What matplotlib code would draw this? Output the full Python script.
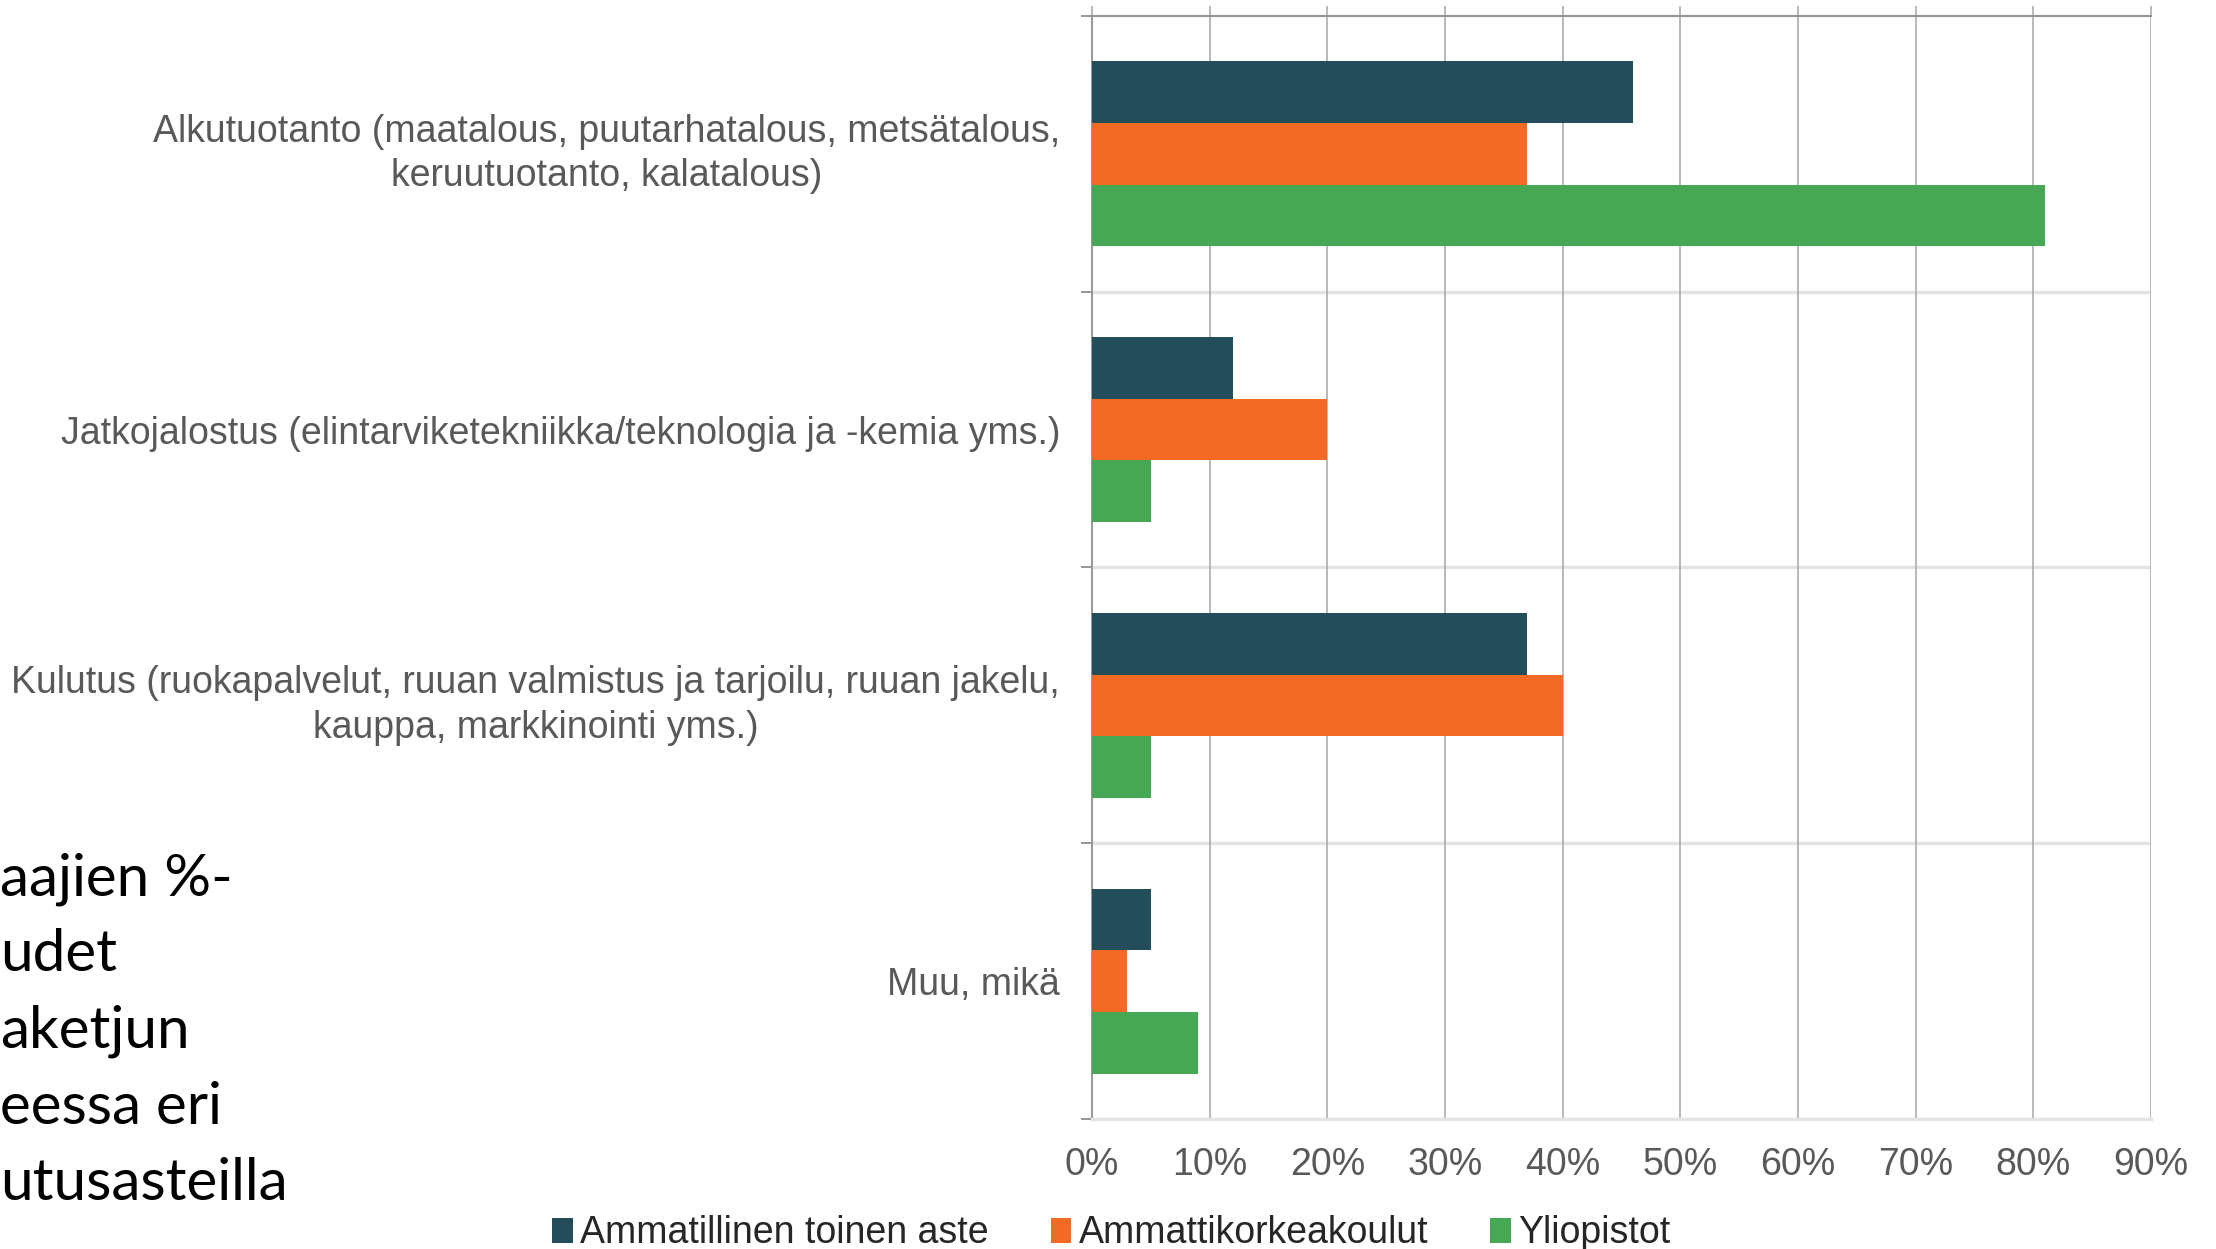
import matplotlib
matplotlib.use("Agg")
import matplotlib.pyplot as plt
from matplotlib.patches import Patch
from matplotlib.ticker import FuncFormatter, FixedLocator
import numpy as np

categories = [
    "Alkutuotanto (maatalous, puutarhatalous, metsätalous,\nkeruutuotanto, kalatalous)",
    "Jatkojalostus (elintarviketekniikka/teknologia ja -kemia yms.)",
    "Kulutus (ruokapalvelut, ruuan valmistus ja tarjoilu, ruuan jakelu,\nkauppa, markkinointi yms.)",
    "Muu, mikä",
]
series_names = ["Ammatillinen toinen aste", "Ammattikorkeakoulut", "Yliopistot"]
ammatillinen = [46, 12, 37, 5]
amk = [37, 20, 40, 3]
yliopistot = [81, 5, 5, 9]
x_ticks = [0, 10, 20, 30, 40, 50, 60, 70, 80, 90]
side_title_lines = ["aajien %-", "udet", "aketjun", "eessa eri", "utusasteilla"]

colors = ["#234D5B", "#F26A23", "#46A855"]
text_gray = "#595959"
grid_gray = "#A6A6A6"
sep_gray = "#E3E3E3"

plt.rcParams["font.family"] = ["Liberation Sans", "DejaVu Sans"]

fig = plt.figure(figsize=(22.16, 12.49), dpi=100)
ax = fig.add_axes([0.4928, 0.1041, 0.9707 - 0.4928, 0.9872 - 0.1041])

y = np.arange(len(categories))
h = 0.2237
for i, (vals, col, name) in enumerate(zip([ammatillinen, amk, yliopistot], colors, series_names)):
    ax.barh(y + (i - 1) * h, vals, height=h, color=col, label=name, zorder=3)

ax.set_ylim(len(categories) - 0.5, -0.5)
ax.set_xlim(0, 90)

# category separators
for yy in np.arange(len(categories)) + 0.5:
    ax.axhline(yy, color=sep_gray, lw=2.4, zorder=0.3)

ax.set_xticks(x_ticks)
ax.xaxis.set_major_formatter(FuncFormatter(lambda v, p: f"{v:.0f}%"))
ax.grid(axis="x", color=grid_gray, lw=1.1, zorder=0.6)
ax.set_axisbelow(True)
ax.tick_params(axis="x", top=True, bottom=False, labelbottom=True, direction="out",
               length=7.5, width=1.1, color=grid_gray, labelsize=27,
               labelcolor=text_gray, pad=13)

ax.set_yticks(y)
ax.set_yticklabels(categories)
ax.yaxis.set_minor_locator(FixedLocator(np.arange(len(categories) + 1) - 0.5))
ax.tick_params(axis="y", which="major", length=0, labelsize=27, labelcolor=text_gray, pad=23)
ax.tick_params(axis="y", which="minor", length=8, width=1.3, color="#8C8C8C", direction="out")
for lab in ax.get_yticklabels():
    lab.set_multialignment("center")
    lab.set_linespacing(1.3)
    if "\n" in lab.get_text():
        lab.set_verticalalignment("center")

ax.spines["right"].set_visible(False)
ax.spines["top"].set_color("#969696")
ax.spines["top"].set_linewidth(1.5)
ax.spines["left"].set_color("#9A9A9A")
ax.spines["left"].set_linewidth(1.5)
ax.spines["bottom"].set_color(sep_gray)
ax.spines["bottom"].set_linewidth(2.4)

handles = [Patch(facecolor=c, edgecolor="none") for c in colors]
leg = fig.legend(handles, series_names, loc="center", bbox_to_anchor=(0.5015, 0.0125),
                 ncol=3, frameon=False, fontsize=27, handlelength=0.55, handleheight=0.65,
                 handletextpad=0.2, columnspacing=1.65, borderaxespad=0)
for t in leg.get_texts():
    t.set_color("#262626")

# cut-off slide title on the left
for k, line in enumerate(side_title_lines):
    fig.text(0.0, 1 - (895 + 76.3 * k) / 1249, line, family=["Lato", "DejaVu Sans"],
             fontsize=42, color="black", ha="left", va="baseline")

fig.savefig("out.png", dpi=100)
